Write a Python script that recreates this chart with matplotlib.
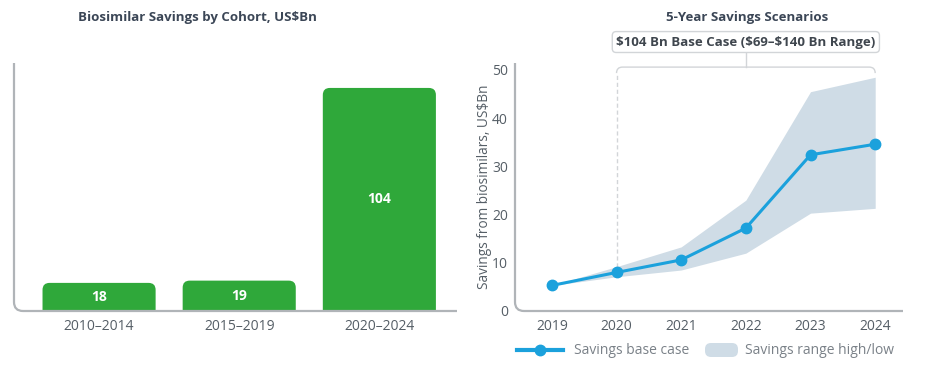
import matplotlib
matplotlib.use("Agg")
import matplotlib.pyplot as plt
from matplotlib.patches import FancyBboxPatch, PathPatch
from matplotlib.path import Path
from matplotlib.lines import Line2D

plt.rcParams['font.family'] = ['Open Sans', 'DejaVu Sans']

# ---- data ----
cohorts = ['2010–2014', '2015–2019', '2020–2024']
cohort_savings = [18, 19, 104]

years = [2019, 2020, 2021, 2022, 2023, 2024]
base_case = [5.3, 8.0, 10.6, 17.2, 32.4, 34.6]
high_case = [5.3, 9.2, 13.3, 23.0, 45.5, 48.5]
low_case = [5.3, 7.1, 8.5, 12.0, 20.3, 21.3]

title_left = 'Biosimilar Savings by Cohort, US$Bn'
title_right = '5-Year Savings Scenarios'
box_text = '$104 Bn Base Case ($69–$140 Bn Range)'
ylabel_right = 'Savings from biosimilars, US$Bn'

green = '#2fa83a'
blue = '#1ba1dc'
band = '#cfdce6'
spine_c = '#b0b4b8'
title_c = '#3b4656'
tick_c = '#555e66'

W, H = 929, 366
fig = plt.figure(figsize=(W / 100, H / 100), dpi=100)


def fx(px):
    return px / W


def fy(py):
    return 1 - py / H


def rounded_spine(ax, wpx, hpx, r=9):
    rx, ry = r / wpx, r / hpx
    verts = [(0, 1), (0, ry), (0, 0), (rx, 0), (1, 0)]
    codes = [Path.MOVETO, Path.LINETO, Path.CURVE3, Path.CURVE3, Path.LINETO]
    ax.add_patch(PathPatch(Path(verts, codes), fill=False, edgecolor=spine_c,
                           lw=1.6, transform=ax.transAxes, clip_on=False))


# ---- left: bars ----
ax1 = fig.add_axes([fx(14), fy(311), fx(457 - 14), fy(63) - fy(311)])
xpos = list(range(len(cohorts)))
bw = 0.807
ax1.set_xlim(-0.607, 2.554)
ax1.set_ylim(5.6, 115)
bars = ax1.bar(xpos, cohort_savings, width=bw, color=green)
# px per unit in each direction for rounding
ppx = 443 / (2.554 + 0.607)
ppy = 248 / (115 - 5.6)
for b, v in zip(bars, cohort_savings):
    b.set_visible(False)
    rr = 7 / ppx
    p = FancyBboxPatch((b.get_x(), -20), b.get_width(), v + 20,
                       boxstyle='round,pad=0,rounding_size=%f' % rr,
                       mutation_aspect=ppx / ppy, facecolor=green,
                       edgecolor='none')
    ax1.add_patch(p)
    ax1.text(b.get_x() + b.get_width() / 2, (v + 5.6) / 2, str(v),
             ha='center', va='center', color='white', fontsize=10,
             fontweight='bold')
ax1.set_xticks(xpos)
ax1.set_xticklabels(cohorts, fontsize=10, color=tick_c)
ax1.tick_params(axis='x', length=0, pad=6)
ax1.set_yticks([])
for s in ax1.spines.values():
    s.set_visible(False)
rounded_spine(ax1, 443, 248)
fig.text(fx(197), fy(18), title_left, ha='center', va='center',
         fontsize=9.5, fontweight='bold', color=title_c)

# ---- right: scenarios ----
ax2 = fig.add_axes([fx(515), fy(311), fx(903 - 515), fy(63) - fy(311)])
ax2.set_xlim(2018.43, 2024.43)
ax2.set_ylim(0, 51.45)
ax2.fill_between(years, low_case, high_case, color=band, lw=0)
ax2.plot(years, base_case, color=blue, lw=2.2, marker='o', markersize=7.5,
         zorder=3)
ax2.set_xticks(years)
ax2.set_xticklabels([str(y) for y in years], fontsize=10, color=tick_c)
ax2.set_yticks([0, 10, 20, 30, 40, 50])
ax2.set_yticklabels(['0', '10', '20', '30', '40', '50'], fontsize=10,
                    color=tick_c)
ax2.tick_params(axis='both', length=0)
ax2.tick_params(axis='x', pad=6)
ax2.tick_params(axis='y', pad=5)
ax2.set_ylabel(ylabel_right, fontsize=9.8, color=tick_c, labelpad=0)
for s in ax2.spines.values():
    s.set_visible(False)
rounded_spine(ax2, 388, 248)

# bracket over the 2020-2024 period
ytop = 50.6
rx, ry = 6 / 64.6, 6 / 4.82
ax2.plot([2020, 2020], [high_case[1], ytop - ry], color='#d2d5d8', lw=1,
         ls=(0, (3, 2)))
verts = [(2020, ytop - ry), (2020, ytop), (2020 + rx, ytop),
         (2024 - rx, ytop), (2024, ytop), (2024, ytop - ry)]
codes = [Path.MOVETO, Path.CURVE3, Path.CURVE3, Path.LINETO, Path.CURVE3,
         Path.CURVE3]
ax2.add_patch(PathPatch(Path(verts, codes), fill=False, edgecolor='#d2d5d8',
                        lw=1, clip_on=False))
ax2.plot([2022, 2022], [ytop, 53.5], color='#d2d5d8', lw=1, clip_on=False)
ax2.text(2022, 55.8, box_text, ha='center', va='center', fontsize=9.5,
         fontweight='bold', color='#3f464e', clip_on=False,
         bbox=dict(boxstyle='round,pad=0.3,rounding_size=0.3',
                   facecolor='white', edgecolor='#d2d5d8', lw=1))
fig.text(fx(747), fy(18), title_right, ha='center', va='center',
         fontsize=9.5, fontweight='bold', color=title_c)

# ---- legend ----
ly = fy(350)
fig.add_artist(Line2D([fx(517), fx(563)], [ly, ly], color=blue, lw=3,
                      transform=fig.transFigure))
fig.add_artist(Line2D([fx(540)], [ly], color=blue, marker='o', markersize=7.5,
                      transform=fig.transFigure))
fig.text(fx(574), ly, 'Savings base case', ha='left', va='center',
         fontsize=10, color='#7a8188')
fig.add_artist(FancyBboxPatch((7.05, (H - 357) / 100), 0.33, 0.14,
                              boxstyle='round,pad=0,rounding_size=0.06',
                              facecolor=band, edgecolor='none',
                              transform=fig.dpi_scale_trans))
fig.text(fx(745), ly, 'Savings range high/low', ha='left', va='center',
         fontsize=10, color='#7a8188')

fig.savefig('out.png', dpi=100)
